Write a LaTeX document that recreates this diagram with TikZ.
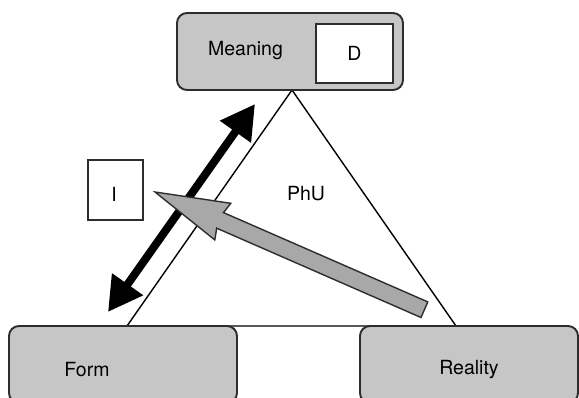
\documentclass[tikz,border=0pt]{standalone}
\usepackage{fontspec}
\setmainfont{TeX Gyre Heros}
\usetikzlibrary{arrows.meta}
\definecolor{boxgray}{RGB}{198,198,198}
\definecolor{arrowgray}{RGB}{168,168,168}
\definecolor{edge}{RGB}{45,45,45}
\begin{document}
\begin{tikzpicture}[x=1pt,y=-1pt,
  every node/.style={font=\fontsize{19.5}{23}\selectfont},
  panel/.style={draw=edge, line width=1.9pt, fill=boxgray, rounded corners=10pt, inner sep=0pt},
  tag/.style={draw=edge, line width=1.7pt, fill=white, inner sep=0pt},
  label/.style={inner sep=0pt, anchor=center},
  side/.style={draw=black, line width=1.4pt},
  link/.style={line width=8pt, {Triangle[length=34pt,width=36pt]}-{Triangle[length=34pt,width=36pt]}},
  flow/.style={draw=edge, line width=1.4pt, fill=arrowgray, line join=miter}
]
\clip (0,0) rectangle (579,398);

% corners of the semiotic triangle
\coordinate (apex) at (292,90);
\coordinate (left) at (127,326);
\coordinate (right) at (456,326);
\draw[side] (apex) -- (left) -- (right) -- cycle;

% double-headed arrow between form and meaning
\coordinate (linkTop) at (255,104);
\coordinate (linkBot) at (108,312);
\draw[link] (linkBot) -- (linkTop);

% broad grey arrow from reality towards I
\coordinate (tip) at (155,192);
\coordinate (barbA) at (230.8,203.3);
\coordinate (joinA) at (223.5,212.6);
\coordinate (tailA) at (427.8,301.9);
\coordinate (tailB) at (421.0,317.5);
\coordinate (joinB) at (216.7,228.2);
\coordinate (barbB) at (214.8,239.9);
\draw[flow] (tip) -- (barbA) -- (joinA) -- (tailA) -- (tailB) -- (joinB) -- (barbB) -- cycle;

% the three corner panels
\node[panel, minimum width=226pt, minimum height=77pt] (meaning) at (290,51.5) {};
\node[label] (meaningText) at (245.5,51) {Meaning};
\node[tag, minimum width=77pt, minimum height=59pt] (D) at (354.5,53.5) {D};

\node[panel, minimum width=228pt, minimum height=77pt] (form) at (123,364.5) {};
\node[label] (formText) at (87,370) {Form};

\node[panel, minimum width=218pt, minimum height=77pt] (reality) at (469,364.5) {};
\node[label] (realityText) at (469,370) {Reality};

% interpretant box and the central label
\node[tag, line width=1.5pt, minimum width=55pt, minimum height=60pt] (I) at (115.5,190) {};
\node[label] (Itext) at (114,194) {I};
\node[label] (phu) at (306,194) {PhU};
\end{tikzpicture}
\end{document}
